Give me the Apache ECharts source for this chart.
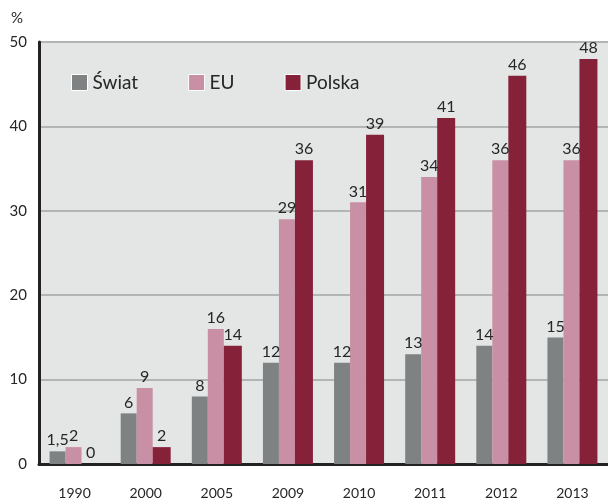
<!DOCTYPE html>
<html>
<head>
<meta charset="utf-8">
<script src="https://cdn.jsdelivr.net/npm/echarts@6/dist/echarts.min.js"></script>
<style>
  html, body { margin: 0; padding: 0; background: #fff; }
  #chart { width: 608px; height: 501px; }
</style>
</head>
<body>
<div id="chart"></div>
<script>
const years = ['1990', '2000', '2005', '2009', '2010', '2011', '2012', '2013']
const swiat = [1.5, 6, 8, 12, 12, 13, 14, 15]
const eu = [2, 9, 16, 29, 31, 34, 36, 36]
const polska = [0, 2, 14, 36, 39, 41, 46, 48]
const yTicks = [0, 10, 20, 30, 40, 50]

const font = 'Lato, "DejaVu Sans", sans-serif'

const labelOpt = {
  show: true,
  position: 'top',
  distance: 3,
  color: '#262626',
  fontSize: 16,
  fontFamily: font,
  formatter: p => String(p.value).replace('.', ',')
}

const chart = echarts.init(document.getElementById('chart'))

chart.setOption({
  animation: false,
  textStyle: { fontFamily: font },
  color: ['#7f8283', '#c98fa5', '#86213a'],
  grid: {
    left: 39,
    right: -6,
    top: 42,
    bottom: 37,
    show: true,
    backgroundColor: '#e3e6e5',
    borderWidth: 0
  },
  legend: {
    left: 66,
    top: 68,
    itemWidth: 16,
    itemHeight: 16,
    itemGap: 50,
    icon: 'rect',
    textStyle: { fontSize: 19, color: '#262626', fontFamily: font },
    itemStyle: { borderColor: '#fff', borderWidth: 1 },
    data: ['Świat', 'EU', 'Polska']
  },
  graphic: [{
    type: 'text',
    left: 11,
    top: 11,
    style: { text: '%', fontSize: 15, fill: '#262626', fontFamily: font }
  }],
  xAxis: {
    type: 'category',
    data: years,
    axisLine: { show: true, lineStyle: { color: '#222', width: 3 } },
    axisTick: { show: false },
    axisLabel: { color: '#262626', fontSize: 14, margin: 22, fontFamily: font }
  },
  yAxis: {
    type: 'value',
    min: yTicks[0],
    max: yTicks[yTicks.length - 1],
    interval: 10,
    axisLine: { show: true, lineStyle: { color: '#222', width: 3 } },
    axisTick: { show: false },
    axisLabel: { color: '#262626', fontSize: 15, margin: 12, fontFamily: font },
    splitLine: { show: true, lineStyle: { color: '#b2b5b4', width: 2 } }
  },
  series: [
    { name: 'Świat', type: 'bar', data: swiat, barWidth: 16, barGap: '0%', label: labelOpt },
    { name: 'EU', type: 'bar', data: eu, barWidth: 16, barGap: '0%', label: labelOpt },
    { name: 'Polska', type: 'bar', data: polska, barWidth: 18, barGap: '0%', label: labelOpt }
  ]
})
</script>
</body>
</html>
